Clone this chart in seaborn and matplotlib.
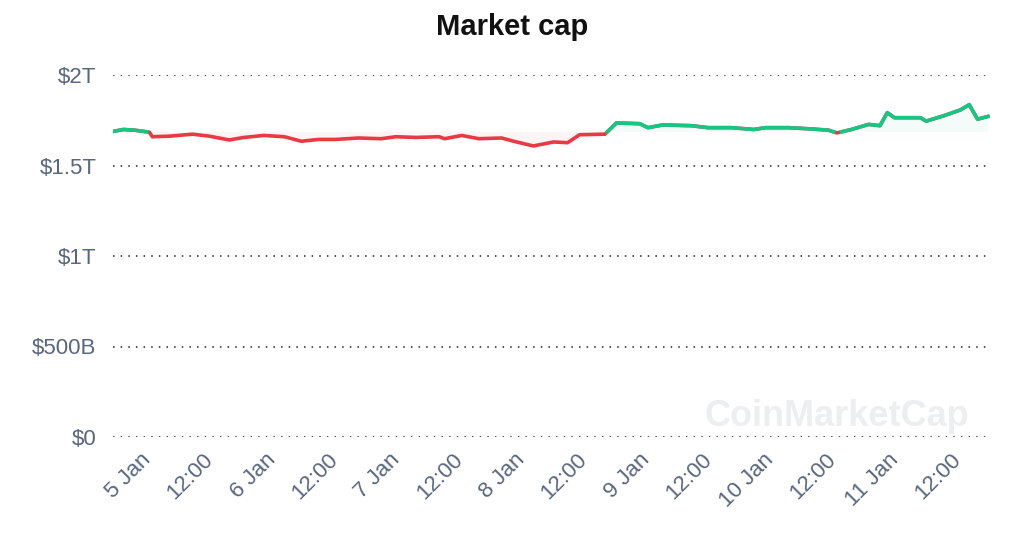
import numpy as np
import pandas as pd
import matplotlib
matplotlib.use("Agg")
import matplotlib.pyplot as plt
import seaborn as sns

plt.rcParams["font.family"] = "Liberation Sans"

# hours since 5 Jan 00:00
hours = [-5.3,-3.3,-1.1,1.7,2.3,5.6,10,13.3,17.1,19.9,23.8,27.7,31,34.3,37.6,42,46.4,49.2,53.1,57.5,58.6,
         61.9,65.2,69.6,71.9,75.7,79.6,82.3,84.6,89.5,91.7,96.2,97.8,100.6,106.1,109.4,113.9,118.2,120.4,
         124.9,129.3,132.6,134.2,137,140.3,142.5,143.9,145.3,150.3,151.4,154.7,158,159.7,161.3,163.3]
cap_trillions = [1.688,1.699,1.695,1.684,1.659,1.662,1.673,1.662,1.641,1.655,1.666,1.659,1.634,1.644,1.644,
                 1.652,1.648,1.659,1.655,1.659,1.648,1.666,1.648,1.652,1.634,1.608,1.630,1.626,1.670,1.673,
                 1.735,1.731,1.709,1.724,1.720,1.709,1.709,1.699,1.709,1.709,1.702,1.695,1.680,1.699,1.727,
                 1.720,1.792,1.764,1.764,1.745,1.774,1.807,1.836,1.756,1.771]
baseline = 1.686
tick_hours = [0,12,24,36,48,60,72,84,96,108,120,132,144,156]
tick_labels = ["5 Jan","12:00","6 Jan","12:00","7 Jan","12:00","8 Jan","12:00","9 Jan","12:00",
               "10 Jan","12:00","11 Jan","12:00"]
y_ticks = [0,0.5,1,1.5,2]
y_labels = ["$0","$500B","$1T","$1.5T","$2T"]

x = np.array(hours, float); y = np.array(cap_trillions, float)
xs, ys = [x[0]], [y[0]]
for i in range(1, len(x)):
    a, b = y[i-1]-baseline, y[i]-baseline
    if a*b < 0:
        t = a/(a-b)
        xs.append(x[i-1]+t*(x[i]-x[i-1])); ys.append(baseline)
    xs.append(x[i]); ys.append(y[i])
xs = np.array(xs); ys = np.array(ys)
df = pd.DataFrame({"h": xs, "v": ys})

RED, GREEN = "#ea3943", "#16c784"
fig = plt.figure(figsize=(10.24, 5.46), dpi=100)
ax = fig.add_axes([113/1024, 1-437/546, (990-113)/1024, (437-75)/546])
sns.lineplot(data=df, x="h", y="v", ax=ax, color=RED, linewidth=2.6)
ax.plot(xs, np.where(ys >= baseline, ys, np.nan), color=GREEN, linewidth=2.6)
ax.fill_between(xs, baseline, ys, where=ys >= baseline, color=GREEN, alpha=0.05, linewidth=0)
ax.fill_between(xs, baseline, ys, where=ys <= baseline, color=RED, alpha=0.05, linewidth=0)

ax.set_xlim(x[0], x[-1] + 0.4)
ax.set_ylim(0, 2)
ax.set_yticks(y_ticks); ax.set_yticklabels(y_labels)
ax.set_xticks(tick_hours)
ax.set_xticklabels(tick_labels, rotation=45, ha="right", rotation_mode="anchor")
ax.tick_params(length=0, labelsize=16, colors="#58667e")
ax.tick_params(axis="x", pad=9)
ax.tick_params(axis="y", pad=12)
ax.set_xlabel(""); ax.set_ylabel("")
for s in ax.spines.values():
    s.set_visible(False)
ax.grid(axis="y", linestyle=(0, (1, 4)), color="#222222", linewidth=1.1)
ax.grid(axis="x", visible=False)
ax.set_axisbelow(True)
fig.text(512/1024, 1-27/546, "Market cap", ha="center", va="center", fontsize=21, fontweight="bold", color="#111111")
fig.text(705/1024, 1-416/546, "CoinMarketCap", ha="left", va="center", fontsize=26, fontweight="bold",
         color="#eceef0", zorder=0)
fig.savefig("out.png", dpi=100)
